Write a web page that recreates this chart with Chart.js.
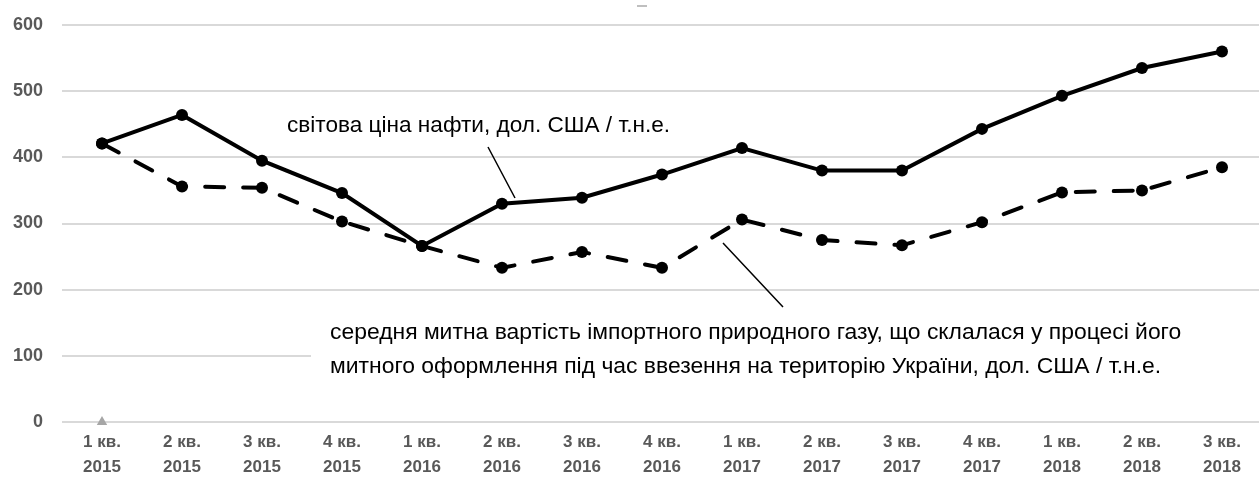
<!DOCTYPE html>
<html>
<head>
<meta charset="utf-8">
<script src="https://cdn.jsdelivr.net/npm/chart.js@4.4.1/dist/chart.umd.min.js"></script>
<style>
  html, body { margin: 0; padding: 0; background: #fff; overflow: hidden; }
  #wrap { width: 1268px; height: 482px; position: relative; }
</style>
</head>
<body>
<div id="wrap"><canvas id="chart"></canvas></div>
<script>
/* ── DATA ── */
const quarters = [
  ["1 кв.", "2015"], ["2 кв.", "2015"], ["3 кв.", "2015"], ["4 кв.", "2015"],
  ["1 кв.", "2016"], ["2 кв.", "2016"], ["3 кв.", "2016"], ["4 кв.", "2016"],
  ["1 кв.", "2017"], ["2 кв.", "2017"], ["3 кв.", "2017"], ["4 кв.", "2017"],
  ["1 кв.", "2018"], ["2 кв.", "2018"], ["3 кв.", "2018"],
];
const oilPrice = [421, 464, 395, 346, 266, 330, 339, 374, 414, 380, 380, 443, 493, 535, 560];
const gasPrice = [421, 356, 354, 303, 266, 233, 257, 233, 306, 275, 267, 302, 347, 350, 385];
const stubSeries = [0, null, null, null, null, null, null, null, null, null, null, null, null, null, null];
const yMin = 0;
const yMax = 600;
const yStep = 100;

const oilLabel = "світова ціна нафти, дол. США / т.н.е.";
const gasLabel = [
  "середня митна вартість імпортного природного газу, що склалася у процесі його",
  "митного оформлення під час ввезення на територію України, дол. США / т.н.е.",
];

const GRAY = "#595959";
const GRID = "#d9d9d9";
const FAMILY = '"Liberation Sans", Arial, sans-serif';

/* ── ANNOTATIONS ── */
const annotations = {
  id: "annotations",
  afterDraw(chart) {
    const c = chart.ctx;
    c.save();

    // white box behind the gas caption (hides the 100 gridline)
    c.fillStyle = "#fff";
    c.fillRect(311, 312, 960, 80);

    c.fillStyle = "#000";
    c.textBaseline = "alphabetic";
    c.textAlign = "left";
    c.font = "22.6px " + FAMILY;
    c.fillText(oilLabel, 287, 132);
    c.font = "22.9px " + FAMILY;
    c.fillText(gasLabel[0], 330, 339);
    c.fillText(gasLabel[1], 330, 373);

    // leader lines
    c.strokeStyle = "#000";
    c.lineWidth = 1.5;
    c.beginPath();
    c.moveTo(488, 147);
    c.lineTo(515, 198);
    c.moveTo(723, 243);
    c.lineTo(783, 307);
    c.stroke();

    // leftover title stub at the top
    c.strokeStyle = "#bfbfbf";
    c.lineWidth = 2;
    c.beginPath();
    c.moveTo(637, 6);
    c.lineTo(647, 6);
    c.stroke();

    c.restore();
  },
};

new Chart(document.getElementById("chart"), {
  type: "line",
  data: {
    labels: quarters,
    datasets: [
      {
        label: "oil",
        data: oilPrice,
        borderColor: "#000",
        borderWidth: 4,
        pointRadius: 6,
        pointBackgroundColor: "#000",
        pointBorderWidth: 0,
        tension: 0,
      },
      {
        label: "gas",
        data: gasPrice,
        borderColor: "#000",
        borderWidth: 4,
        borderDash: [19, 19],
        borderCapStyle: "round",
        pointRadius: 6,
        pointBackgroundColor: "#000",
        pointBorderWidth: 0,
        tension: 0,
      },
      {
        label: "stub",
        data: stubSeries,
        showLine: false,
        clip: false,
        pointStyle: "triangle",
        pointRadius: 6,
        pointBackgroundColor: "#a6a6a6",
        pointBorderColor: "#a6a6a6",
        pointBorderWidth: 0,
      },
    ],
  },
  options: {
    responsive: true,
    maintainAspectRatio: false,
    animation: false,
    layout: { padding: { top: 25, left: 0, right: 0, bottom: 0 } },
    plugins: {
      legend: { display: false },
      tooltip: { enabled: false },
    },
    scales: {
      x: {
        offset: true,
        grid: { display: false, drawTicks: false },
        border: { display: false },
        afterFit: (s) => { s.height = 60; },
        ticks: {
          color: GRAY,
          autoSkip: false,
          maxRotation: 0,
          padding: 8,
          font: { family: FAMILY, size: 17, weight: "bold", lineHeight: "25px" },
        },
      },
      y: {
        min: yMin,
        max: yMax,
        grid: { color: GRID, lineWidth: 2, drawTicks: false },
        border: { display: false },
        afterFit: (s) => {
          s.width = 62;
          s.paddingTop = 0;
          s.paddingBottom = 0;
        },
        ticks: {
          stepSize: yStep,
          color: GRAY,
          padding: 19,
          font: { family: FAMILY, size: 18, weight: "bold" },
        },
      },
    },
  },
  plugins: [annotations],
});
</script>
</body>
</html>
